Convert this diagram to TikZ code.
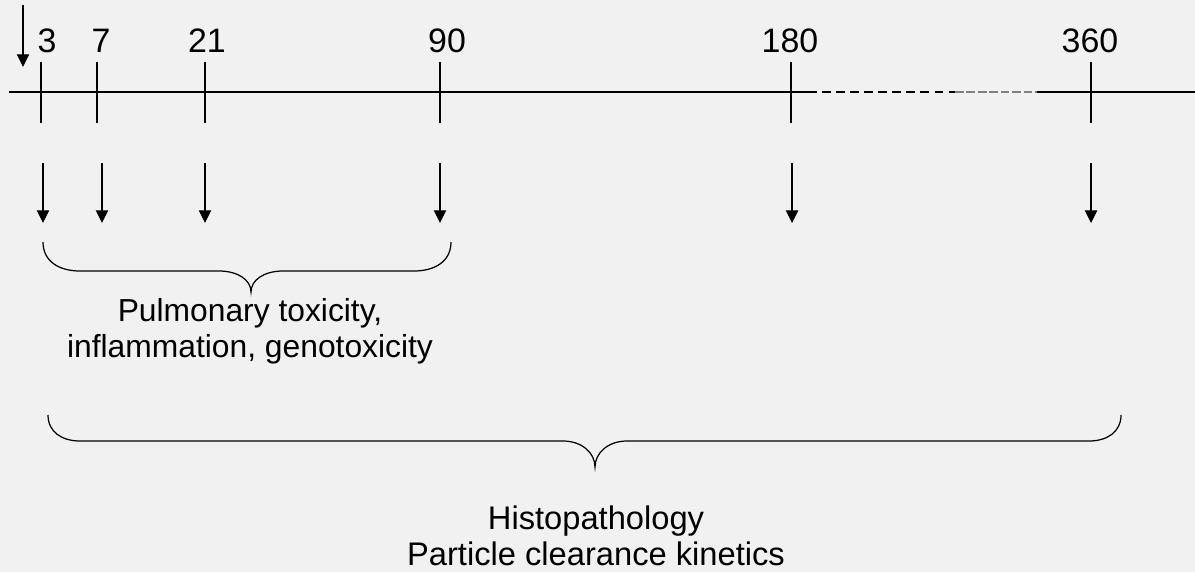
\documentclass[tikz,border=0pt]{standalone}
\usepackage{fontspec}
\setmainfont{Liberation Sans}
\usetikzlibrary{arrows.meta, calc}
\definecolor{paper}{RGB}{241,241,241}

\begin{document}
\begin{tikzpicture}[x=0.02cm, y=-0.02cm, line width=0.7pt,
		sampling/.style={-{Triangle[length=7.2pt, width=7pt]}},
		daylabel/.style={font=\fontsize{19.3}{21}\selectfont, inner sep=0pt, anchor=base},
		endpoint/.style={font=\fontsize{18.6}{20.8}\selectfont, inner sep=0pt, anchor=north, align=center}]
			\fill[paper] (0, 0) rectangle (1195, 572);
			\useasboundingbox (0, 0) rectangle (1195, 572);
			
			% time axis
			\coordinate (axisL) at (9, 92);
			\coordinate (gapL) at (808, 92);
			\coordinate (gapM) at (955, 92);
			\coordinate (gapR) at (1037, 92);
			\coordinate (axisR) at (1195, 92);
			
			\draw (axisL) -- (gapL);
			\draw[dashed, dash pattern=on 5pt off 3pt] (gapL) -- (gapM);
			\draw[dashed, dash pattern=on 5pt off 1.5pt, color=gray] (gapM) -- (gapR);
			\draw (gapR) -- (axisR);
			
			% exposure
			\coordinate (expA) at (23, 5);
			\coordinate (expB) at (23, 67);
			\draw[sampling] (expA) -- (expB);
			
			% days
			\draw (41, 62) -- (41, 123);
			\draw (97, 62) -- (97, 123);
			\draw (205, 62) -- (205, 123);
			\draw (440, 62) -- (440, 123);
			\draw (791, 62) -- (791, 123);
			\draw (1091, 62) -- (1091, 123);
			
			\node[daylabel] (d3) at (47, 52) {3};
			\node[daylabel] (d7) at (101, 52) {7};
			\node[daylabel] (d21) at (207, 52) {21};
			\node[daylabel] (d90) at (447, 52) {90};
			\node[daylabel] (d180) at (790, 52) {180};
			\node[daylabel] (d360) at (1090, 52) {360};
			
			\draw[sampling] (43, 163) -- (43, 223);
			\draw[sampling] (102, 163) -- (102, 223);
			\draw[sampling] (205, 163) -- (205, 223);
			\draw[sampling] (440, 163) -- (440, 223);
			\draw[sampling] (792, 163) -- (792, 223);
			\draw[sampling] (1091, 163) -- (1091, 223);
			
			% short term brace
			\coordinate (tipA) at (251, 292);
			\draw (43, 242) .. controls (43, 262) and (60, 271) .. (80, 271) -- (219, 271)
			.. controls (238, 271) and (251, 280) .. (tipA)
			.. controls (251, 280) and (264, 271) .. (283, 271) -- (414, 271)
			.. controls (434, 271) and (451, 262) .. (451, 242);
			\node[endpoint, font=\fontsize{18.1}{20.6}\selectfont] (shortlabel) at (250, 298) {Pulmonary toxicity,\\inflammation, genotoxicity};
			
			% long term brace
			\coordinate (tipB) at (595, 467);
			\draw (48, 415) .. controls (48, 432) and (62, 441) .. (80, 441) -- (563, 441)
			.. controls (582, 441) and (595, 453) .. (tipB)
			.. controls (595, 453) and (608, 441) .. (627, 441) -- (1089, 441)
			.. controls (1107, 441) and (1121, 432) .. (1121, 415);
			\node[endpoint] (longlabel) at (596, 505) {Histopathology\\Particle clearance kinetics};
			
		\end{tikzpicture}
\end{document}
